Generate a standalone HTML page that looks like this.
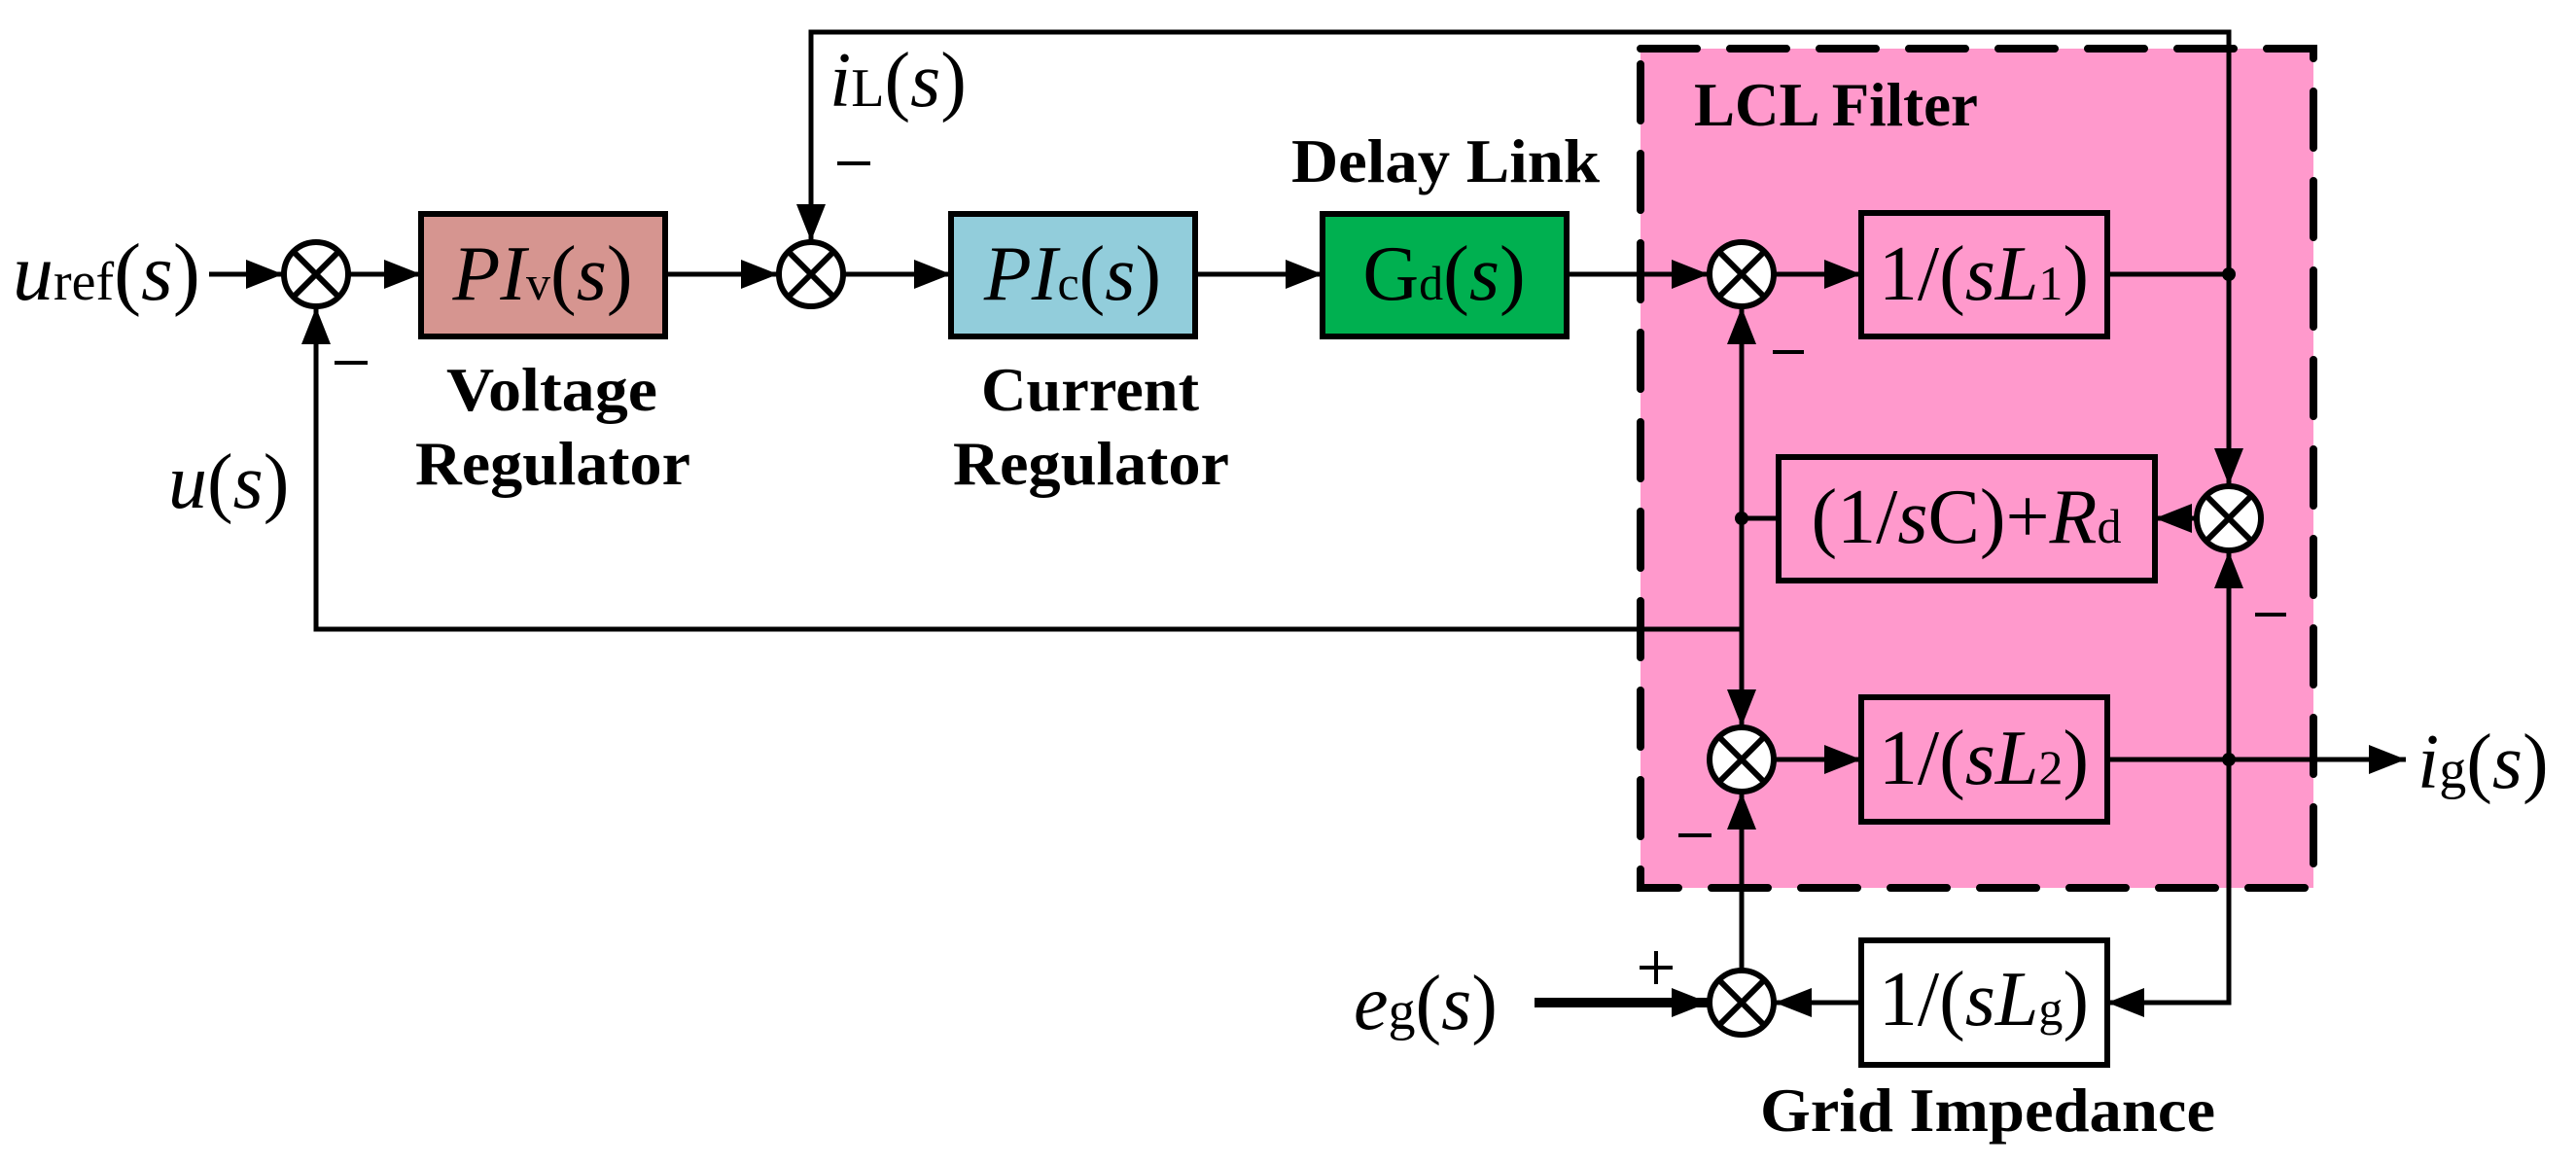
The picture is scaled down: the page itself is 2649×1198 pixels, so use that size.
<!DOCTYPE html>
<html><head><meta charset="utf-8"><style>
html,body{margin:0;padding:0;background:#fff;}
svg{display:block;}
.t{font-family:"Liberation Serif",serif;font-size:80px;fill:#000;}
.i{font-style:italic;}
.b{font-family:"Liberation Serif",serif;font-weight:bold;font-size:64px;fill:#000;}
</style></head><body>
<svg width="2649" height="1198" viewBox="0 0 2649 1198" xmlns="http://www.w3.org/2000/svg">
<!-- LCL pink region -->
<rect x="1687" y="50" width="692" height="863" fill="#ff99cc"/>
<rect x="1687" y="50" width="692" height="863" fill="none" stroke="#000" stroke-width="8" stroke-dasharray="58 34" stroke-linecap="round"/>

<!-- blocks -->
<g stroke="#000" stroke-width="6">
<rect x="433" y="220" width="251" height="126" fill="#d69590"/>
<rect x="978" y="220" width="251" height="126" fill="#92cddb"/>
<rect x="1360" y="220" width="251" height="126" fill="#00b050"/>
<rect x="1914" y="219" width="253" height="127" fill="none"/>
<rect x="1829" y="470" width="387" height="127" fill="none"/>
<rect x="1914" y="717" width="253" height="128" fill="none"/>
<rect x="1914" y="967" width="253" height="128" fill="#fff"/>
</g>

<!-- lines -->
<g stroke="#000" stroke-width="5" fill="none">
<path d="M215 282H291"/>
<path d="M359 282H433"/>
<path d="M684 282H800"/>
<path d="M868 282H978"/>
<path d="M1229 282H1360"/>
<path d="M1611 282H1757"/>
<path d="M1825 282H1914"/>
<path d="M2167 282H2292"/>
<path d="M834 248V33H2292V499"/>
<path d="M2258 533H2216"/>
<path d="M1829 533H1791"/>
<path d="M2292 567V1031H2167"/>
<path d="M1825 781H1914"/>
<path d="M2167 781H2474"/>
<path d="M1791 647H325V316"/>
<path d="M1791 316V747"/>
<path d="M1791 997V815"/>
<path d="M1914 1031H1825"/>
<path d="M1578 1031H1757" stroke-width="10"/>
</g>

<!-- summing junctions -->
<g stroke="#000" stroke-width="6" fill="#fff">
<g transform="translate(325,282)"><circle r="33"/><path d="M-23 -23L23 23M23 -23L-23 23"/></g>
<g transform="translate(834,282)"><circle r="33"/><path d="M-23 -23L23 23M23 -23L-23 23"/></g>
<g transform="translate(1791,282)"><circle r="33"/><path d="M-23 -23L23 23M23 -23L-23 23"/></g>
<g transform="translate(2292,533)"><circle r="33"/><path d="M-23 -23L23 23M23 -23L-23 23"/></g>
<g transform="translate(1791,781)"><circle r="33"/><path d="M-23 -23L23 23M23 -23L-23 23"/></g>
<g transform="translate(1791,1031)"><circle r="33"/><path d="M-23 -23L23 23M23 -23L-23 23"/></g>
</g>

<!-- dots -->
<g fill="#000">
<circle cx="2292" cy="282" r="7"/>
<circle cx="1791" cy="533" r="7"/>
<circle cx="2292" cy="781" r="7"/>
</g>

<!-- arrowheads -->
<g fill="#000">
<polygon points="291,282 253,267 253,297"/>
<polygon points="433,282 395,267 395,297"/>
<polygon points="800,282 762,267 762,297"/>
<polygon points="978,282 940,267 940,297"/>
<polygon points="1360,282 1322,267 1322,297"/>
<polygon points="1757,282 1719,267 1719,297"/>
<polygon points="1914,282 1876,267 1876,297"/>
<polygon points="834,248 819,210 849,210"/>
<polygon points="2292,499 2277,461 2307,461"/>
<polygon points="2216,533 2254,518 2254,548"/>
<polygon points="2292,567 2277,605 2307,605"/>
<polygon points="1914,781 1876,766 1876,796"/>
<polygon points="2474,781 2436,766 2436,796"/>
<polygon points="325,316 310,354 340,354"/>
<polygon points="1791,316 1776,354 1806,354"/>
<polygon points="1791,747 1776,709 1806,709"/>
<polygon points="1791,815 1776,853 1806,853"/>
<polygon points="2167,1031 2205,1016 2205,1046"/>
<polygon points="1825,1031 1863,1016 1863,1046"/>
<polygon points="1757,1031 1719,1016 1719,1046"/>
</g>

<!-- signs -->
<g stroke="#000" stroke-width="4">
<path d="M861 168H895"/>
<path d="M344 373H378"/>
<path d="M1823 362H1855"/>
<path d="M2319 632H2351"/>
<path d="M1726 859H1760"/>
<path d="M1686 995H1720M1703 978V1012"/>
</g>

<!-- math labels -->
<text class="t" x="13" y="308"><tspan class="i" font-size="84">u</tspan><tspan font-size="56">ref</tspan><tspan font-size="84">(</tspan><tspan class="i" font-size="84">s</tspan><tspan font-size="84">)</tspan></text>
<text class="t" x="173" y="522" font-size="84"><tspan class="i">u</tspan>(<tspan class="i">s</tspan>)</text>
<text class="t" x="853" y="109" font-size="84"><tspan class="i">i</tspan><tspan font-size="56">L</tspan>(<tspan class="i">s</tspan>)</text>
<text class="t" x="2486" y="810" font-size="84"><tspan class="i">i</tspan><tspan font-size="56">g</tspan>(<tspan class="i">s</tspan>)</text>
<text class="t" x="1392" y="1058" font-size="84"><tspan class="i">e</tspan><tspan font-size="56">g</tspan>(<tspan class="i">s</tspan>)</text>

<text class="t" x="558" y="308" text-anchor="middle" font-size="74"><tspan class="i">PI</tspan><tspan font-size="50">v</tspan>(<tspan class="i">s</tspan>)</text>
<text class="t" x="1103" y="308" text-anchor="middle" font-size="74"><tspan class="i">PI</tspan><tspan font-size="50">c</tspan>(<tspan class="i">s</tspan>)</text>
<text class="t" x="1485" y="308" text-anchor="middle" font-size="74">G<tspan font-size="50">d</tspan>(<tspan class="i">s</tspan>)</text>
<text class="t" x="2040" y="308" text-anchor="middle" font-size="74">1/(<tspan class="i">sL</tspan><tspan font-size="50">1</tspan>)</text>
<text class="t" x="2022" y="558" text-anchor="middle" font-size="74">(1/<tspan class="i">s</tspan>C)+<tspan class="i">R</tspan><tspan font-size="50">d</tspan></text>
<text class="t" x="2040" y="806" text-anchor="middle" font-size="74">1/(<tspan class="i">sL</tspan><tspan font-size="50">2</tspan>)</text>
<text class="t" x="2040" y="1054" text-anchor="middle" font-size="74">1/(<tspan class="i">sL</tspan><tspan font-size="50">g</tspan>)</text>

<!-- bold captions -->
<text class="b" x="459" y="422" textLength="217" lengthAdjust="spacingAndGlyphs">Voltage</text>
<text class="b" x="427" y="498" textLength="283" lengthAdjust="spacingAndGlyphs">Regulator</text>
<text class="b" x="1009" y="422" textLength="224" lengthAdjust="spacingAndGlyphs">Current</text>
<text class="b" x="980" y="498" textLength="284" lengthAdjust="spacingAndGlyphs">Regulator</text>
<text class="b" x="1328" y="187" textLength="317" lengthAdjust="spacingAndGlyphs">Delay Link</text>
<text class="b" x="1742" y="129" textLength="292" lengthAdjust="spacingAndGlyphs">LCL Filter</text>
<text class="b" x="1810" y="1163" textLength="468" lengthAdjust="spacingAndGlyphs">Grid Impedance</text>
</svg>
</body></html>
